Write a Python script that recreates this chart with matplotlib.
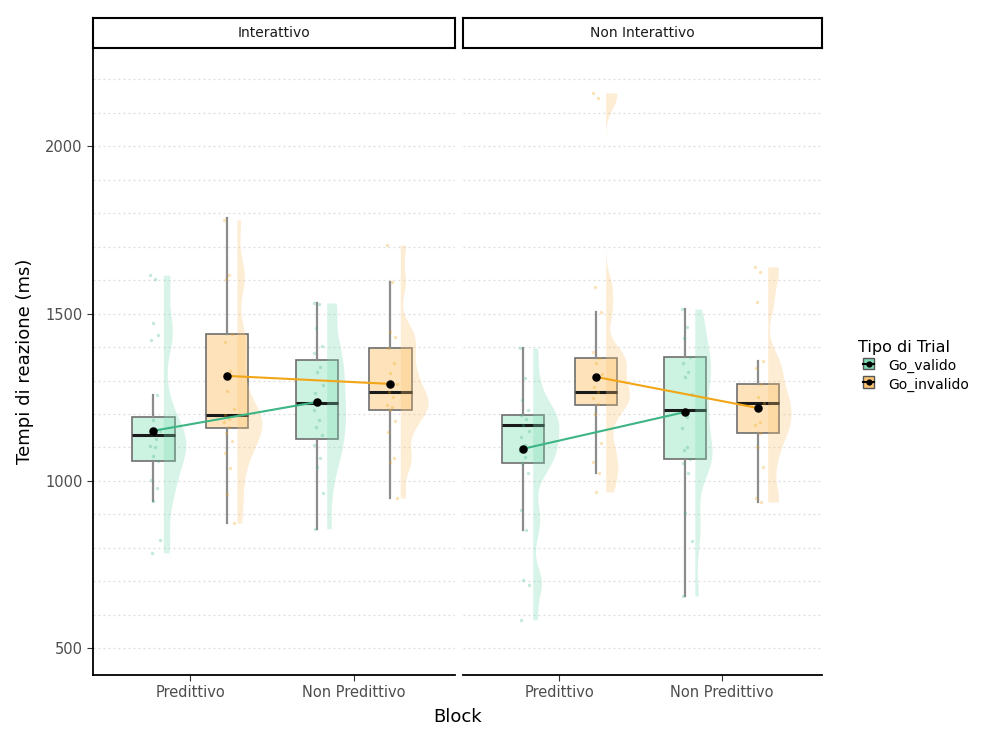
import numpy as np
import matplotlib.pyplot as plt
from matplotlib.patches import Rectangle
from matplotlib.lines import Line2D
from matplotlib.legend_handler import HandlerBase

# categories
panels = ['Interattivo', 'Non Interattivo']
blocks = ['Predittivo', 'Non Predittivo']
trial_types = ['Go_valido', 'Go_invalido']

# box stats per block: [whisker low, q1, median, q3, whisker high]
int_valido_stats = [[940, 1060, 1137, 1192, 1257], [857, 1125, 1233, 1362, 1532]]
int_invalido_stats = [[874, 1158, 1197, 1439, 1786], [949, 1212, 1266, 1397, 1595]]
nonint_valido_stats = [[854, 1054, 1167, 1197, 1397], [656, 1066, 1212, 1370, 1514]]
nonint_invalido_stats = [[1024, 1227, 1266, 1367, 1505], [937, 1143, 1233, 1290, 1359]]

# group means (black dots joined by lines)
int_valido_means = [1150, 1236]
int_invalido_means = [1314, 1290]
nonint_valido_means = [1096, 1206]
nonint_invalido_means = [1311, 1218]

# single observations (jittered dots and half violins)
int_valido_pred = [1615, 1603, 1472, 1436, 1421, 1257, 1182, 1150, 1140, 1125,
                   1105, 1102, 1075, 1060, 1003, 979, 940, 824, 785]
int_valido_nonpred = [1532, 1528, 1457, 1403, 1382, 1340, 1326, 1287, 1263, 1240,
                      1212, 1182, 1161, 1137, 1107, 1069, 1042, 964, 857]
int_invalido_pred = [1780, 1615, 1605, 1440, 1415, 1330, 1270, 1215, 1197, 1185,
                     1176, 1160, 1143, 1120, 1085, 1040, 960, 874]
int_invalido_nonpred = [1705, 1595, 1446, 1431, 1397, 1353, 1323, 1290, 1266, 1250,
                        1227, 1221, 1212, 1180, 1146, 1069, 1057, 949]
nonint_valido_pred = [1397, 1308, 1242, 1212, 1197, 1185, 1167, 1150, 1130, 1107,
                      1090, 1072, 1054, 1024, 913, 854, 704, 690, 585]
nonint_valido_nonpred = [1514, 1460, 1427, 1370, 1353, 1326, 1311, 1260, 1212, 1190,
                         1158, 1100, 1093, 1066, 1054, 1024, 904, 820, 656]
nonint_invalido_pred = [2160, 2145, 1580, 1505, 1385, 1367, 1353, 1320, 1281, 1266,
                        1248, 1230, 1200, 1113, 1057, 1024, 967]
nonint_invalido_nonpred = [1640, 1625, 1535, 1359, 1338, 1290, 1251, 1233, 1218, 1176,
                           1167, 1143, 1100, 1042, 950, 937]

stats = {
    'Interattivo': [int_valido_stats, int_invalido_stats],
    'Non Interattivo': [nonint_valido_stats, nonint_invalido_stats],
}
means = {
    'Interattivo': [int_valido_means, int_invalido_means],
    'Non Interattivo': [nonint_valido_means, nonint_invalido_means],
}
obs = {
    'Interattivo': [[int_valido_pred, int_valido_nonpred],
                    [int_invalido_pred, int_invalido_nonpred]],
    'Non Interattivo': [[nonint_valido_pred, nonint_valido_nonpred],
                        [nonint_invalido_pred, nonint_invalido_nonpred]],
}

box_fills = ['#CCF2E1', '#FEE3BA']
viol_colors = ['#7EDDB5', '#FDC474']
line_colors = ['#3DB585', '#F2A516']
offsets = [-0.225, 0.225]
box_w = 0.26


def kde(vals, grid, adjust=0.55):
    v = np.asarray(vals, float)
    n = len(v)
    iqr = np.subtract(*np.percentile(v, [75, 25]))
    bw = adjust * 0.9 * min(v.std(ddof=1), iqr / 1.34) * n ** -0.2
    z = (grid[:, None] - v[None, :]) / bw
    return np.exp(-0.5 * z ** 2).sum(1) / (n * bw * np.sqrt(2 * np.pi))


# densities first, so all violins share one scale (same area)
dens = {}
for p in panels:
    for t in range(2):
        for b in range(2):
            v = obs[p][t][b]
            g = np.linspace(min(v), max(v), 400)
            dens[(p, t, b)] = (g, kde(v, g))
scale = 0.17 / max(d.max() for _, d in dens.values())

fig = plt.figure(figsize=(9.82, 7.38), dpi=100)
ax_rect = {'Interattivo': [93 / 982, 63 / 738, 362 / 982, 627 / 738],
           'Non Interattivo': [463 / 982, 63 / 738, 359 / 982, 627 / 738]}

jit = np.array([-0.02, 0.01, -0.005, 0.03, -0.015, 0.02, 0.0, 0.04, -0.01, 0.015])

for i, p in enumerate(panels):
    ax = fig.add_axes(ax_rect[p])
    ax.set_xlim(0.405, 2.62)
    ax.set_ylim(420, 2294)
    for y in range(500, 2300, 100):
        ax.axhline(y, color='#dcdcdc', lw=0.9, ls=(0, (1.5, 2.5)), zorder=0)

    for t in range(2):
        pos = np.arange(1, 3) + offsets[t]
        bstats = []
        for b in range(2):
            lo, q1, med, q3, hi = stats[p][t][b]
            bstats.append(dict(whislo=lo, q1=q1, med=med, q3=q3, whishi=hi, fliers=[]))
        ax.bxp(bstats, positions=pos, widths=box_w, showfliers=False, showcaps=False,
               patch_artist=True,
               boxprops=dict(facecolor=box_fills[t], edgecolor='#6e6e6e', lw=1.2),
               whiskerprops=dict(color='#8c8c8c', lw=1.6),
               medianprops=dict(color='#1a1a1a', lw=2.2), zorder=2)

        for b in range(2):
            g, d = dens[(p, t, b)]
            x0 = pos[b] + 0.06
            ax.fill_betweenx(g, x0, x0 + d * scale, color=viol_colors[t], alpha=0.3,
                             lw=0, zorder=3)
            v = np.asarray(obs[p][t][b])
            xj = pos[b] + jit[np.arange(len(v)) % len(jit)]
            ax.scatter(xj, v, s=6, color=line_colors[t], alpha=0.3, lw=0, zorder=4)

        ax.plot(pos, means[p][t], color=line_colors[t], lw=1.5, zorder=5)
        ax.scatter(pos, means[p][t], s=26, color='black', zorder=6)

    ax.set_xticks([1, 2])
    ax.set_xticklabels(blocks, fontsize=10.5, color='#4d4d4d')
    ax.tick_params(axis='x', length=4, color='#333333')
    for s in ['top', 'right']:
        ax.spines[s].set_visible(False)
    ax.spines['bottom'].set_linewidth(1.3)
    if i == 0:
        ax.set_yticks([500, 1000, 1500, 2000])
        ax.tick_params(axis='y', labelsize=10.5, labelcolor='#4d4d4d', length=4,
                       color='#333333')
        ax.spines['left'].set_linewidth(1.3)
        ax.set_ylabel('Tempi di reazione (ms)', fontsize=13, labelpad=8)
    else:
        ax.spines['left'].set_visible(False)
        ax.set_yticks([])

    r = ax_rect[p]
    sax = fig.add_axes([r[0], 690 / 738, r[2], 30 / 738])
    sax.set_xticks([])
    sax.set_yticks([])
    for s in sax.spines.values():
        s.set_linewidth(1.5)
    sax.text(0.5, 0.5, p, ha='center', va='center', fontsize=10, color='#1a1a1a')

fig.text(458 / 982, 1 - 717 / 738, 'Block', ha='center', va='center', fontsize=13)


class BoxKey(HandlerBase):
    def create_artists(self, legend, orig, xd, yd, w, h, fs, trans):
        c = orig.get_facecolor()
        rect = Rectangle((xd + w * 0.25, yd), w * 0.5, h, facecolor=c,
                         edgecolor='#555555', lw=1, transform=trans)
        ln = Line2D([xd + w * 0.25, xd + w * 0.75], [yd + h / 2] * 2, color='black',
                    lw=1.5, transform=trans)
        dot = Line2D([xd + w / 2], [yd + h / 2], marker='o', ms=3.5, color='black',
                     transform=trans)
        return [rect, ln, dot]


handles = [Rectangle((0, 0), 1, 1, facecolor=viol_colors[t]) for t in range(2)]
leg = fig.legend(handles, trial_types, title='Tipo di Trial', loc='center left',
                 bbox_to_anchor=(845 / 982, 1 - 366 / 738), frameon=False,
                 fontsize=10, title_fontsize=11.5, handler_map={Rectangle: BoxKey()},
                 handlelength=1.6, handleheight=0.9, handletextpad=0.6, labelspacing=0.3)
leg._legend_box.align = 'left'

fig.savefig('out.png', dpi=100)
